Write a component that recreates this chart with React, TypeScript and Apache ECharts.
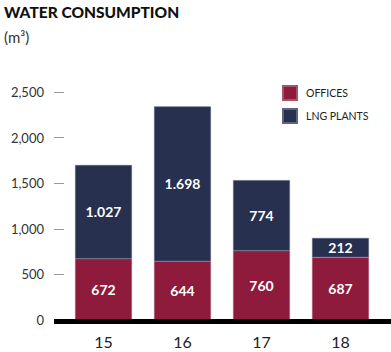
import React, { useEffect, useRef } from "react";
import * as echarts from "echarts";

const categories = ["15", "16", "17", "18"];
const offices = [672, 644, 760, 687];
const lngPlants = [1027, 1698, 774, 212];
const yTicks = [0, 500, 1000, 1500, 2000, 2500];

const fmtComma = (v: number) => String(v).replace(/\B(?=(\d{3})+(?!\d))/g, ",");
const fmtDot = (v: number) => String(v).replace(/\B(?=(\d{3})+(?!\d))/g, ".");

export default function App() {
  const ref = useRef<HTMLDivElement>(null);
  useEffect(() => {
    if (!ref.current) return;
    const chart = echarts.init(ref.current, null, { renderer: "svg" });
    const font = "Lato, 'Open Sans', sans-serif";
    const labelStyle = {
      show: true,
      position: "inside" as const,
      color: "#ffffff",
      fontFamily: font,
      fontWeight: "bold" as const,
      fontSize: 14,
      formatter: (p: any) => fmtDot(p.value),
    };
    chart.setOption({
      animation: false,
      backgroundColor: "#ffffff",
      title: [
        {
          text: "WATER CONSUMPTION",
          left: 4,
          top: 4,
          padding: 0,
          textStyle: { fontFamily: font, fontWeight: 900, fontSize: 15.5, color: "#111" },
        },
        {
          text: "(m³)",
          left: 4,
          top: 29,
          padding: 0,
          textStyle: { fontFamily: font, fontWeight: "normal", fontSize: 15, color: "#333" },
        },
      ],
      legend: {
        orient: "vertical",
        left: 282,
        top: 85,
        padding: 0,
        itemWidth: 14,
        itemHeight: 14,
        itemGap: 7,
        icon: "rect",
        data: ["OFFICES", "LNG PLANTS"],
        textStyle: { fontFamily: font, fontSize: 10.5, color: "#222", padding: [0, 0, 0, 4], lineHeight: 14 },
      },
      grid: { left: 64, right: 11, top: 92, bottom: 32 },
      xAxis: {
        type: "category",
        data: categories,
        axisLine: { show: false },
        axisTick: { show: false },
        axisLabel: { margin: 13, fontSize: 16, color: "#222", fontFamily: font },
      },
      yAxis: {
        type: "value",
        min: 0,
        max: yTicks[yTicks.length - 1],
        interval: 500,
        splitLine: { show: false },
        axisLine: { show: false },
        axisTick: { show: true, length: 10, lineStyle: { color: "#999", width: 1 } },
        axisLabel: {
          margin: 20,
          fontSize: 13,
          color: "#333",
          fontFamily: font,
          formatter: (v: number) => fmtComma(v),
        },
      },
      series: [
        {
          name: "OFFICES",
          type: "bar",
          stack: "total",
          barWidth: "72%",
          data: offices,
          itemStyle: { color: "#8E1A3C", borderColor: "#a5546c", borderWidth: 0.6 },
          label: labelStyle,
        },
        {
          name: "LNG PLANTS",
          type: "bar",
          stack: "total",
          barWidth: "72%",
          data: lngPlants,
          itemStyle: { color: "#27304F", borderColor: "#5b6380", borderWidth: 0.6 },
          label: labelStyle,
        },
      ],
      graphic: [
        {
          type: "rect",
          left: 54,
          top: 319,
          shape: { width: 337, height: 5 },
          style: { fill: "#000" },
          z: 100,
        },
      ],
    });
    return () => chart.dispose();
  }, []);
  return (
    <div
      ref={ref}
      style={{ position: "fixed", left: 0, top: 0, width: 391, height: 352 }}
    />
  );
}
